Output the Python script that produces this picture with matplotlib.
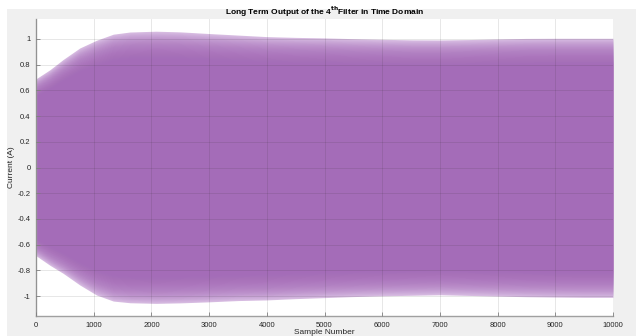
import matplotlib
matplotlib.use("Agg")
import matplotlib.pyplot as plt
import matplotlib.patches as patches
import numpy as np

plt.rcParams["font.family"] = ["Liberation Sans", "DejaVu Sans"]

# Envolvente de la señal (muestra, corriente)
muestras = [0, 240, 470, 760, 1050, 1340, 1630, 2080, 2500, 3000, 3500,
            4000, 4500, 5000, 5500, 6000, 6500, 7000, 7500, 8000, 8500, 9000,
            9500, 10000]
env_sup = [0.69, 0.76, 0.84, 0.93, 0.99, 1.037, 1.054, 1.06, 1.055, 1.042,
           1.03, 1.018, 1.012, 1.008, 1.002, 0.997, 0.993, 0.992, 0.995, 1.0,
           1.004, 1.005, 1.005, 1.005]
env_inf = [-0.686, -0.76, -0.823, -0.914, -0.992, -1.039, -1.052, -1.057,
           -1.053, -1.045, -1.035, -1.03, -1.02, -1.012, -1.004, -0.998, -0.994,
           -0.99, -0.995, -1.0, -1.005, -1.008, -1.01, -1.01]

xticks = list(range(0, 10001, 1000))
yticks = [-1, -0.8, -0.6, -0.4, -0.2, 0, 0.2, 0.4, 0.6, 0.8, 1]

fig = plt.figure(figsize=(6.36, 3.36), dpi=100, facecolor="white")
# fondo gris estilo MATLAB
fig.patches.append(patches.Rectangle((7 / 636, 0), 1, 1 - 9 / 336,
                                     transform=fig.transFigure,
                                     facecolor="#f0f0f0", edgecolor="none",
                                     zorder=-10))
ax = fig.add_axes([36 / 636, 20 / 336, 577 / 636, 297 / 336])
ax.set_facecolor("white")

x = np.array(muestras)
sup = np.array(env_sup)
inf = np.array(env_inf)

# base clara en el borde y capas semitransparentes hacia el centro
ax.fill_between(x, inf, sup, color="#d8bde2", lw=0, zorder=2)
for f in np.linspace(0.995, 0.80, 30):
    ax.fill_between(x, inf * f, sup * f, color="#a468b8", alpha=0.07,
                    lw=0, zorder=2)

ax.set_xlim(0, 10000)
ax.set_ylim(-1.155, 1.155)
ax.set_xticks(xticks)
ax.set_yticks(yticks)
ax.set_yticklabels([("%g" % v) for v in yticks])
ax.grid(True, color="#262626", alpha=0.13, lw=0.6, zorder=5)
ax.set_axisbelow(False)
for s in ["top", "right"]:
    ax.spines[s].set_visible(False)
for s in ["left", "bottom"]:
    ax.spines[s].set_color("#a0a0a0")
    ax.spines[s].set_linewidth(1.0)
ax.tick_params(direction="in", length=3, width=0.6, color="#808080",
               labelsize=5.5, labelcolor="#262626", pad=4)

ax.set_title(r"Long Term Output of the 4$^{\bf th}$Filter in Time Domain",
             fontsize=6, fontweight="bold", pad=3)
ax.set_xlabel("Sample Number", fontsize=6, color="#262626", labelpad=0)
ax.set_ylabel("Current (A)", fontsize=6, color="#262626", labelpad=2)

fig.savefig("out.png", dpi=100, facecolor=fig.get_facecolor())
